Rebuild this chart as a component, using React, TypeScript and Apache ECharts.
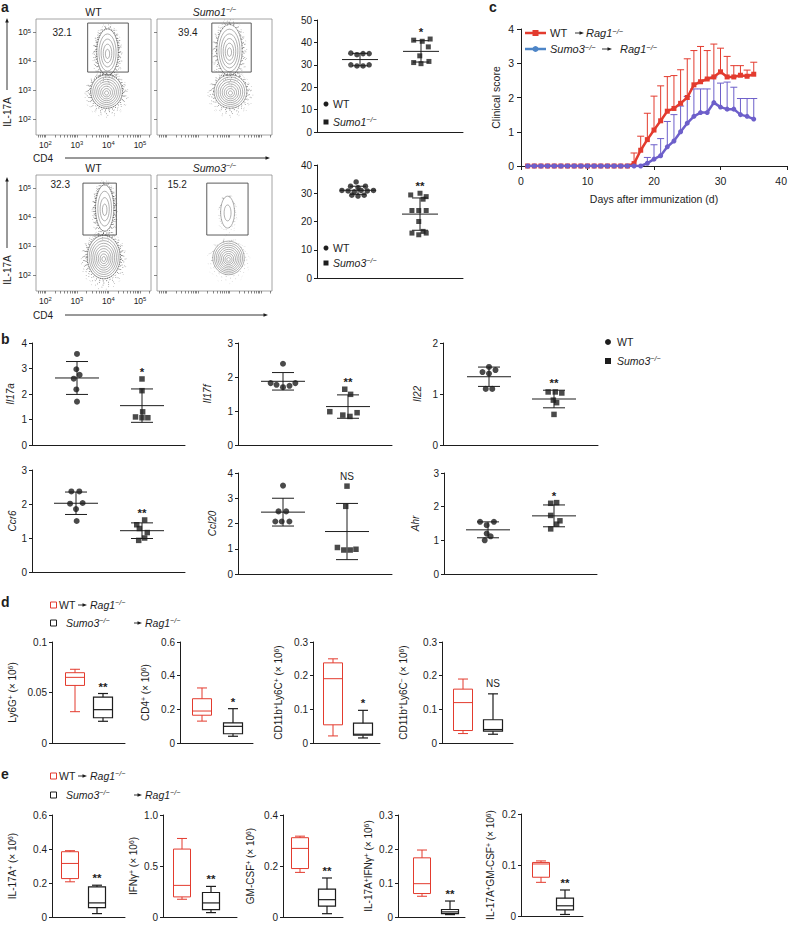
import React, { useEffect, useRef } from 'react';
import * as echarts from 'echarts';

const FONT = '"Liberation Sans", Arial, Helvetica, sans-serif';
const INK = '#1d1d1d';
const RED = '#e33b2e';
const VIOLET = '#6d5fca';
const LEG_BLUE = '#4d85c7';

// ================= DATA =================
// a – flow cytometry (log10 units: CD4 on x, IL-17A on y)
const flowTitles = ['WT', 'Sumo1', 'WT', 'Sumo3'];
const flowIsKO = [false, true, false, true];
const flowPercents = ['32.1', '39.4', '32.3', '15.2'];
const flowGates = [
  [3.34, 4.63, 3.62, 5.31],
  [3.44, 4.69, 3.62, 5.31],
  [3.19, 4.25, 3.38, 5.17],
  [3.28, 4.59, 3.38, 5.17],
];
// populations: [centre CD4, centre IL-17A, radius CD4, radius IL-17A, contour levels, dot density]
const flowPopulations = [
  [[3.97, 4.31, 0.34, 0.8, 5, 1], [3.94, 2.95, 0.5, 0.58, 8, 1]],
  [[4.0, 4.38, 0.4, 0.88, 6, 0.85], [4.03, 2.95, 0.52, 0.58, 8, 0.85]],
  [[3.88, 4.31, 0.29, 0.8, 4, 1], [3.85, 2.62, 0.52, 0.75, 9, 1]],
  [[3.94, 4.17, 0.22, 0.55, 2, 0.15], [3.97, 2.59, 0.5, 0.58, 9, 0.15]],
];
const flowDecades = [2, 3, 4, 5];

// a – % IL-17A+ of CD4+
const aSumo1WT = [35.2, 34.5, 35.0, 35.0, 30.0, 29.5, 29.5, 30.0];
const aSumo1KO = [41.0, 40.5, 41.5, 38.0, 34.0, 31.0, 30.5, 31.5];
const aSumo3WT = [34.0, 32.5, 32.0, 32.5, 31.0, 30.8, 30.5, 31.0, 30.8, 31.0, 29.3, 29.0, 29.3];
const aSumo3KO = [30.0, 29.4, 28.8, 27.9, 23.9, 23.9, 23.9, 20.0, 15.9, 15.3, 15.9, 16.5];

// b – relative mRNA
const bGenes = ['Il17a', 'Il17f', 'Il22', 'Ccr6', 'Ccl20', 'Ahr'];
const bWT = [
  [3.57, 2.97, 2.75, 2.6, 2.18, 1.7],
  [2.39, 1.82, 1.77, 1.7, 1.74, 1.82],
  [1.53, 1.47, 1.43, 1.4, 1.1, 1.1],
  [2.37, 2.37, 2.01, 2.03, 1.85, 1.5],
  [3.5, 2.48, 2.48, 2.08, 2.08, 2.08],
  [1.55, 1.55, 1.45, 1.2, 1.12, 1.0],
];
const bKO = [
  [2.59, 2.13, 1.3, 1.1, 1.07, 1.07],
  [1.64, 1.49, 0.98, 0.95, 0.88, 0.84],
  [1.04, 1.04, 1.02, 0.88, 0.83, 0.6],
  [1.53, 1.39, 1.28, 1.16, 1.0, 0.93],
  [3.48, 2.68, 1.05, 0.98, 0.95, 0.95],
  [2.12, 2.1, 1.74, 1.58, 1.48, 1.34],
];
const bSig = ['*', '**', '**', '**', 'NS', '*'];
const bYMax = [4, 3, 2, 3, 4, 3];

// c – clinical score
const cDays = [1, 2, 3, 4, 5, 6, 7, 8, 9, 10, 11, 12, 13, 14, 15, 16, 17, 18, 19, 20, 21, 22, 23, 24, 25, 26, 27, 28, 29, 30, 31, 32, 33, 34, 35];
const cWT = [0, 0, 0, 0, 0, 0, 0, 0, 0, 0, 0, 0, 0, 0, 0, 0, 0.07, 0.46, 0.77, 1.05, 1.32, 1.6, 1.68, 1.83, 2.0, 2.37, 2.46, 2.54, 2.6, 2.75, 2.6, 2.6, 2.65, 2.62, 2.68];
const cWTErr = [0, 0, 0, 0, 0, 0, 0, 0, 0, 0, 0, 0, 0, 0, 0, 0, 0.31, 0.41, 0.77, 0.99, 1.02, 1.01, 0.96, 0.98, 1.13, 1.0, 1.03, 0.83, 0.96, 0.69, 0.6, 0.33, 0.28, 0.18, 0.35];
const cKO = [0, 0, 0, 0, 0, 0, 0, 0, 0, 0, 0, 0, 0, 0, 0, 0, 0, 0, 0.08, 0.2, 0.3, 0.56, 0.73, 1.0, 1.25, 1.45, 1.56, 1.56, 1.85, 1.72, 1.66, 1.66, 1.5, 1.45, 1.37];
const cKOErr = [0, 0, 0, 0, 0, 0, 0, 0, 0, 0, 0, 0, 0, 0, 0, 0, 0, 0, 0.17, 0.42, 0.5, 0.74, 0.77, 0.75, 0.78, 0.8, 0.69, 0.69, 0.75, 0.7, 0.79, 0.64, 0.47, 0.52, 0.6];

// d – CNS infiltrates, box [min, Q1, median, Q3, max]
const dNames = ['Ly6G', 'CD4', 'CD11b+Ly6C+', 'CD11b+Ly6C-'];
const dWT = [
  [0.031, 0.057, 0.065, 0.0696, 0.073],
  [0.13, 0.165, 0.19, 0.263, 0.327],
  [0.021, 0.054, 0.191, 0.238, 0.25],
  [0.028, 0.037, 0.12, 0.16, 0.19],
];
const dKO = [
  [0.0215, 0.025, 0.033, 0.0455, 0.049],
  [0.04, 0.055, 0.099, 0.119, 0.204],
  [0.015, 0.023, 0.026, 0.059, 0.097],
  [0.026, 0.035, 0.04, 0.069, 0.146],
];
const dYMax = [0.1, 0.6, 0.3, 0.3];
const dInterval = [0.05, 0.2, 0.1, 0.1];
const dSig = ['**', '*', '*', 'NS'];

// e – cytokine-producing cells, box [min, Q1, median, Q3, max]
const eWT = [
  [0.207, 0.226, 0.315, 0.384, 0.39],
  [0.174, 0.197, 0.31, 0.666, 0.77],
  [0.175, 0.19, 0.269, 0.311, 0.317],
  [0.061, 0.069, 0.098, 0.174, 0.197],
  [0.066, 0.076, 0.102, 0.105, 0.108],
];
const eKO = [
  [0.02, 0.055, 0.083, 0.177, 0.187],
  [0.043, 0.072, 0.138, 0.24, 0.3],
  [0.013, 0.043, 0.068, 0.109, 0.153],
  [0.007, 0.01, 0.015, 0.022, 0.047],
  [0.003, 0.012, 0.02, 0.035, 0.051],
];
const eYMax = [0.6, 1.0, 0.4, 0.3, 0.2];
const eInterval = [0.2, 0.5, 0.2, 0.1, 0.1];
const eSig = ['**', '**', '**', '**', '**'];

// ================= LAYOUT =================
const flowGrids = [
  { left: 36, top: 19, width: 115, height: 116 },
  { left: 157, top: 19, width: 115, height: 116 },
  { left: 36, top: 175, width: 115, height: 116 },
  { left: 157, top: 175, width: 115, height: 116 },
];
const flowX = [1.7, 5.35];
const flowY = [1.45, 5.45];
const flowPercentPos = [[2.22, 4.97], [2.37, 4.97], [2.16, 5.13], [2.03, 5.13]];

const aGrids = [
  { left: 317, top: 20, width: 146, height: 112 },
  { left: 317, top: 165, width: 146, height: 113 },
];
const aCenters = [[360, 421], [358, 420]];
const aJitWT = [
  [-0.15, -0.05, 0.05, 0.15, -0.15, -0.05, 0.05, 0.15],
  [-0.03, -0.12, 0.0, 0.12, -0.26, -0.16, -0.06, 0.05, 0.15, 0.25, -0.1, 0.0, 0.1],
];
const aJitKO = [
  [-0.12, 0.02, 0.15, 0.12, -0.02, -0.12, 0.0, 0.13],
  [0.0, -0.15, 0.1, 0.05, -0.13, -0.02, 0.1, -0.02, -0.13, -0.02, 0.1, 0.05],
];

const bGrids = [
  { left: 32, top: 343, width: 153, height: 102 },
  { left: 238, top: 343, width: 154, height: 102 },
  { left: 443, top: 343, width: 155, height: 102 },
  { left: 32, top: 470, width: 153, height: 102 },
  { left: 238, top: 473, width: 154, height: 101 },
  { left: 444, top: 473, width: 153, height: 101 },
];
const bCenters = [[77, 142], [283, 348], [489, 554], [76, 142], [283, 347], [488, 554]];
const bNameGap = [17, 26, 21, 15, 21, 24];
const bJitWT = [
  [0, -0.01, 0.04, -0.05, -0.01, 0],
  [0, -0.19, -0.1, 0, 0.1, 0.19],
  [0, 0.1, -0.1, 0, -0.05, 0.05],
  [-0.07, 0.05, -0.09, 0.1, 0, 0.01],
  [0, -0.07, 0.05, -0.12, -0.02, 0.1],
  [-0.12, 0.09, -0.02, -0.02, 0.04, -0.05],
];
const bJitKO = [
  [0, 0, 0.01, -0.1, 0, 0.09],
  [-0.05, 0.04, -0.28, 0.14, -0.08, 0.03],
  [-0.09, 0.02, 0.12, -0.01, 0.04, 0],
  [0.04, -0.08, -0.04, 0.08, 0.04, -0.05],
  [0, -0.02, -0.15, 0.14, -0.05, 0.05],
  [0.04, -0.05, -0.05, 0.09, 0.04, -0.05],
];

const cGrid = { left: 521, top: 29, width: 266, height: 137 };

const dGrids = [
  { left: 52, top: 642, width: 73, height: 101 },
  { left: 180, top: 642, width: 73, height: 101 },
  { left: 313, top: 642, width: 67, height: 101 },
  { left: 442, top: 642, width: 71, height: 101 },
];
const dCenters = [[75, 103], [202, 233], [333, 363], [463, 493]];
const dNameGap = [35, 30, 30, 34];

const eGrids = [
  { left: 52, top: 815, width: 73, height: 102 },
  { left: 163, top: 815, width: 74, height: 102 },
  { left: 283, top: 815, width: 60, height: 102 },
  { left: 398, top: 815, width: 67, height: 102 },
  { left: 521, top: 814, width: 62, height: 102 },
];
const eCenters = [[70, 97], [182, 211], [300, 327], [422, 450], [541, 565]];
const eNameGap = [35, 25, 28, 25, 26];

// ================= HELPERS =================
function richFor(size: number) {
  const s = Math.round(size * 0.68 * 10) / 10;
  return {
    sup: { fontSize: s, verticalAlign: 'top', fontFamily: FONT, color: INK, fill: INK },
    i: { fontSize: size, fontStyle: 'italic', fontFamily: FONT, color: INK, fill: INK },
    isup: { fontSize: s, fontStyle: 'italic', verticalAlign: 'top', fontFamily: FONT, color: INK, fill: INK },
  };
}
const mean = (a: number[]) => a.reduce((s, v) => s + v, 0) / a.length;
const sd = (a: number[]) => {
  const m = mean(a);
  return Math.sqrt(a.reduce((s, v) => s + (v - m) * (v - m), 0) / (a.length - 1));
};
const ko = (g: string) => `{i|${g}}{isup|−/−}`;
const cellName = (n: string) => {
  const map: Record<string, string> = {
    'Ly6G': 'Ly6G{sup|+} (× 10{sup|6})',
    'CD4': 'CD4{sup|+} (× 10{sup|6})',
    'CD11b+Ly6C+': 'CD11b{sup|+}Ly6C{sup|+} (× 10{sup|6})',
    'CD11b+Ly6C-': 'CD11b{sup|+}Ly6C{sup|−} (× 10{sup|6})',
  };
  return map[n];
};
const eNames = [
  'IL-17A{sup|+} (× 10{sup|6})',
  'IFNγ{sup|+} (× 10{sup|6})',
  'GM-CSF{sup|+} (× 10{sup|6})',
  'IL-17A{sup|+}IFNγ{sup|+} (× 10{sup|6})',
  'IL-17A{sup|+}GM-CSF{sup|+} (× 10{sup|6})',
];

function gText(x: number, y: number, text: string, size = 10, extra: any = {}, rotation = 0) {
  return {
    type: 'text', x, y, rotation, silent: true,
    style: {
      text, fontSize: size, fontFamily: FONT, fill: INK, rich: richFor(size),
      align: 'left', verticalAlign: 'middle', ...extra,
    },
  };
}
function arrowRight(x1: number, x2: number, y: number, head = 4.5, w = 0.9): any[] {
  return [
    { type: 'line', silent: true, shape: { x1, y1: y, x2: x2 - head + 0.5, y2: y }, style: { stroke: INK, lineWidth: w } },
    { type: 'polygon', silent: true, shape: { points: [[x2, y], [x2 - head, y - 1.8], [x2 - head, y + 1.8]] }, style: { fill: INK } },
  ];
}
function arrowUp(x: number, yBottom: number, yTop: number): any[] {
  return [
    { type: 'line', silent: true, shape: { x1: x, y1: yBottom, x2: x, y2: yTop + 4 }, style: { stroke: INK, lineWidth: 0.9 } },
    { type: 'polygon', silent: true, shape: { points: [[x, yTop], [x - 1.8, yTop + 4.5], [x + 1.8, yTop + 4.5]] }, style: { fill: INK } },
  ];
}

function buildOption() {
  const grid: any[] = [];
  const xAxis: any[] = [];
  const yAxis: any[] = [];
  const series: any[] = [];
  const graphic: any[] = [];
  const axLine = { color: INK, width: 1 };

  const addGrid = (g: any, frame = false) => {
    grid.push({
      left: g.left, top: g.top, width: g.width, height: g.height, containLabel: false, outerBoundsMode: 'none',
      show: frame, borderColor: '#8e8e8e', borderWidth: 0.8, backgroundColor: 'rgba(0,0,0,0)',
    });
    return grid.length - 1;
  };
  const xRange = (g: any, c: number[]) => {
    const unit = c[1] - c[0];
    const min = 1 - (c[0] - g.left) / unit;
    return [min, min + g.width / unit];
  };
  const plainX = (gi: number, r: number[]) => {
    xAxis.push({
      gridIndex: gi, type: 'value', min: r[0], max: r[1],
      axisLine: { show: true, lineStyle: axLine }, axisTick: { show: false }, axisLabel: { show: false }, splitLine: { show: false },
    });
  };
  const valueY = (gi: number, max: number, interval: number, name: string, gap: number, nameStyle: any = {}, fmt?: any) => {
    yAxis.push({
      gridIndex: gi, type: 'value', min: 0, max, interval,
      axisLine: { show: true, lineStyle: axLine },
      axisTick: { show: true, inside: false, length: 3, lineStyle: axLine },
      axisLabel: { margin: 5, fontSize: 10, fontFamily: FONT, color: INK, formatter: fmt },
      splitLine: { show: false },
      name, nameLocation: 'middle', nameGap: gap, nameRotate: 90,
      nameTextStyle: { fontSize: 10, fontFamily: FONT, color: INK, rich: richFor(10), ...nameStyle },
    });
  };
  const sigSeries = (gi: number, top: number, label: string, offset: number) => {
    const isNS = label === 'NS';
    series.push({
      type: 'custom', xAxisIndex: gi, yAxisIndex: gi, silent: true, clip: false, z: 5,
      itemStyle: { color: INK },
      data: [[2, top]],
      renderItem: (_p: any, api: any) => {
        const c = api.coord([api.value(0), api.value(1)]);
        return {
          type: 'text', x: c[0], y: c[1] - offset,
          style: {
            text: label, fontSize: isNS ? 10 : 11.5, fontWeight: isNS ? 'normal' : 'bold',
            fontFamily: FONT, fill: INK, align: 'center', verticalAlign: 'bottom',
          },
        };
      },
    });
  };

  // ---------- a: flow plots ----------
  const minorTicks: number[] = [];
  for (let d = 1; d <= 5; d++) {
    for (let k = 1; k <= 9; k++) {
      const v = d + Math.log10(k);
      if (v > flowX[0] && v < flowX[1]) minorTicks.push(v);
    }
  }
  const renderContour = (_p: any, api: any) => {
    const c = api.coord([api.value(0), api.value(1)]);
    const s = api.size([api.value(2), api.value(3)]);
    const n = api.value(4);
    const dens = api.value(5);
    const ch: any[] = [];
    // speckled halo of single events
    for (let i = 0; i < 6; i++) {
      const f = 1.02 + i * 0.07;
      ch.push({
        type: 'ellipse', shape: { cx: c[0], cy: c[1] + i * 0.6, rx: s[0] * f, ry: s[1] * (f - 0.02) },
        style: {
          fill: 'none', stroke: '#222', lineWidth: 0.9,
          lineDash: [0.8, 1.6 + i * 1.1 + (1 - dens) * 5], lineDashOffset: i * 1.3,
          opacity: Math.max(0.12, (0.95 - i * 0.13) * (0.3 + 0.7 * dens)),
        },
      });
    }
    for (let k = n; k >= 1; k--) {
      const f = k / n;
      ch.push({
        type: 'ellipse', shape: { cx: c[0], cy: c[1] + (1 - f) * s[1] * 0.1, rx: s[0] * f, ry: s[1] * f },
        style: { fill: 'none', stroke: '#7a7a7a', lineWidth: 0.6 },
      });
    }
    return { type: 'group', children: ch };
  };
  flowGrids.forEach((g, k) => {
    const gi = addGrid(g, true);
    const showLab = k % 2 === 0;
    xAxis.push({
      gridIndex: gi, type: 'value', min: flowX[0], max: flowX[1],
      axisLine: { show: false }, splitLine: { show: false },
      axisTick: { show: true, inside: false, length: 2.5, customValues: minorTicks, lineStyle: { color: '#555', width: 0.7 } },
      axisLabel: {
        show: showLab, customValues: flowDecades, margin: 5, fontSize: 8.5, fontFamily: FONT, color: INK,
        formatter: (v: number) => `10{sup|${Math.round(v)}}`, rich: richFor(8.5),
      },
    });
    yAxis.push({
      gridIndex: gi, type: 'value', min: flowY[0], max: flowY[1],
      axisLine: { show: false }, splitLine: { show: false },
      axisTick: { show: true, inside: false, length: 3, customValues: flowDecades, lineStyle: { color: '#555', width: 0.7 } },
      axisLabel: {
        show: showLab, customValues: flowDecades, margin: 5, fontSize: 8.5, fontFamily: FONT, color: INK,
        formatter: (v: number) => `10{sup|${Math.round(v)}}`, rich: richFor(8.5),
      },
    });
    series.push({ type: 'custom', xAxisIndex: gi, yAxisIndex: gi, silent: true, clip: true, data: flowPopulations[k], renderItem: renderContour, z: 2 });
    series.push({
      type: 'custom', xAxisIndex: gi, yAxisIndex: gi, silent: true, clip: false, data: [flowGates[k]], z: 3,
      renderItem: (_p: any, api: any) => {
        const a = api.coord([api.value(0), api.value(3)]);
        const b = api.coord([api.value(1), api.value(2)]);
        return { type: 'rect', shape: { x: a[0], y: a[1], width: b[0] - a[0], height: b[1] - a[1] }, style: { fill: 'none', stroke: '#4a4a4a', lineWidth: 0.9 } };
      },
    });
    const label = flowPercents[k];
    series.push({
      type: 'custom', xAxisIndex: gi, yAxisIndex: gi, silent: true, clip: false, data: [flowPercentPos[k]], z: 4,
      itemStyle: { color: INK },
      renderItem: (_p: any, api: any) => {
        const c = api.coord([api.value(0), api.value(1)]);
        return { type: 'text', x: c[0], y: c[1], style: { text: label, fontSize: 10, fontFamily: FONT, fill: INK, align: 'left', verticalAlign: 'middle' } };
      },
    });
    const title = flowIsKO[k] ? ko(flowTitles[k]) : flowTitles[k];
    graphic.push(gText(g.left + g.width / 2, g.top - 7, title, 10.5, { align: 'center' }));
  });
  // flow axis titles
  [[112, 90, 18], [270, 248, 177]].forEach(([ly, yb, yt]) => {
    graphic.push(gText(7, ly, 'IL-17A', 10, { align: 'center' }, Math.PI / 2));
    graphic.push(...arrowUp(7, yb, yt));
  });
  [[158, 270], [315, 268]].forEach(([y, xe]) => {
    graphic.push(gText(33, y, 'CD4', 10));
    graphic.push(...arrowRight(65, xe, y));
  });

  // ---------- dot plots ----------
  const dotPlot = (g: any, centers: number[], yMax: number, interval: number, name: string, gap: number, italic: boolean,
    wt: number[], koV: number[], wtJ: number[], koJ: number[], sig: string, meanHalf: number, capHalf: number, sym: number) => {
    const gi = addGrid(g);
    plainX(gi, xRange(g, centers));
    valueY(gi, yMax, interval, name, gap, italic ? { fontStyle: 'italic' } : {});
    series.push({
      type: 'scatter', xAxisIndex: gi, yAxisIndex: gi, symbol: 'circle', symbolSize: sym, silent: true, z: 3,
      itemStyle: { color: INK, borderWidth: 0 }, data: wt.map((v, i) => [1 + wtJ[i], v]),
    });
    series.push({
      type: 'scatter', xAxisIndex: gi, yAxisIndex: gi, symbol: 'rect', symbolSize: sym - 0.5, silent: true, z: 3,
      itemStyle: { color: INK, borderWidth: 0 }, data: koV.map((v, i) => [2 + koJ[i], v]),
    });
    const stats = [[1, mean(wt), sd(wt)], [2, mean(koV), sd(koV)]];
    series.push({
      type: 'custom', xAxisIndex: gi, yAxisIndex: gi, silent: true, clip: false, z: 4, data: stats,
      itemStyle: { color: INK },
      renderItem: (_p: any, api: any) => {
        const x = api.value(0), m = api.value(1), s = api.value(2);
        const c = api.coord([x, m]);
        const t = api.coord([x, m + s]);
        const b = api.coord([x, m - s]);
        const st = { stroke: INK, lineWidth: 1 };
        return {
          type: 'group', children: [
            { type: 'line', shape: { x1: c[0] - meanHalf, y1: c[1], x2: c[0] + meanHalf, y2: c[1] }, style: st },
            { type: 'line', shape: { x1: c[0], y1: t[1], x2: c[0], y2: b[1] }, style: st },
            { type: 'line', shape: { x1: c[0] - capHalf, y1: t[1], x2: c[0] + capHalf, y2: t[1] }, style: st },
            { type: 'line', shape: { x1: c[0] - capHalf, y1: b[1], x2: c[0] + capHalf, y2: b[1] }, style: st },
          ],
        };
      },
    });
    const top = Math.max(...koV, stats[1][1] + stats[1][2]);
    sigSeries(gi, top, sig, sig === 'NS' ? 5 : 1);
  };

  dotPlot(aGrids[0], aCenters[0], 50, 10, '', 0, false, aSumo1WT, aSumo1KO, aJitWT[0], aJitKO[0], '*', 18, 8, 5.5);
  dotPlot(aGrids[1], aCenters[1], 40, 10, '', 0, false, aSumo3WT, aSumo3KO, aJitWT[1], aJitKO[1], '**', 18, 8, 5.5);
  // a legends
  [[104, 122, 'Sumo1'], [248, 263, 'Sumo3']].forEach(([y1, y2, g]) => {
    graphic.push({ type: 'circle', silent: true, shape: { cx: 326, cy: y1 as number, r: 2.5 }, style: { fill: INK } });
    graphic.push(gText(333, y1 as number, 'WT', 10.5));
    graphic.push({ type: 'rect', silent: true, shape: { x: 323.5, y: (y2 as number) - 2.5, width: 5, height: 5 }, style: { fill: INK } });
    graphic.push(gText(333, y2 as number, ko(g as string), 10.5));
  });

  bGenes.forEach((gene, k) => {
    dotPlot(bGrids[k], bCenters[k], bYMax[k], 1, gene, bNameGap[k], true, bWT[k], bKO[k], bJitWT[k], bJitKO[k], bSig[k], 22, 11, 6);
  });
  graphic.push({ type: 'circle', silent: true, shape: { cx: 608, cy: 342, r: 3 }, style: { fill: INK } });
  graphic.push(gText(617, 342, 'WT', 10.5));
  graphic.push({ type: 'rect', silent: true, shape: { x: 605, y: 358, width: 6, height: 6 }, style: { fill: INK } });
  graphic.push(gText(617, 361, ko('Sumo3'), 10.5));

  // ---------- c: clinical score ----------
  const ci = addGrid(cGrid);
  xAxis.push({
    gridIndex: ci, type: 'value', min: 0, max: 40, interval: 10,
    axisLine: { show: true, lineStyle: axLine }, axisTick: { show: true, length: 4, lineStyle: axLine },
    axisLabel: { margin: 9, fontSize: 10.5, fontFamily: FONT, color: INK, alignMaxLabel: 'right' }, splitLine: { show: false },
    name: 'Days after immunization (d)', nameLocation: 'middle', nameGap: 27,
    nameTextStyle: { fontSize: 10.5, fontFamily: FONT, color: INK },
  });
  yAxis.push({
    gridIndex: ci, type: 'value', min: 0, max: 4, interval: 1,
    axisLine: { show: true, lineStyle: axLine }, axisTick: { show: true, length: 4, lineStyle: axLine },
    axisLabel: { margin: 7, fontSize: 10.5, fontFamily: FONT, color: INK }, splitLine: { show: false },
    name: 'Clinical score', nameLocation: 'middle', nameGap: 20, nameRotate: 90,
    nameTextStyle: { fontSize: 10.5, fontFamily: FONT, color: INK },
  });
  const errSeries = (vals: number[], errs: number[], color: string, z: number) => ({
    type: 'custom', xAxisIndex: ci, yAxisIndex: ci, silent: true, clip: false, z,
    itemStyle: { color },
    data: cDays.map((d, i) => [d, vals[i], errs[i]]).filter((r) => r[2] > 0),
    renderItem: (_p: any, api: any) => {
      const x = api.value(0), m = api.value(1), e = api.value(2);
      const c = api.coord([x, m]);
      const t = api.coord([x, m + e]);
      const st = { stroke: color, lineWidth: 1 };
      return {
        type: 'group', children: [
          { type: 'line', shape: { x1: c[0], y1: c[1], x2: c[0], y2: t[1] }, style: st },
          { type: 'line', shape: { x1: c[0] - 3.5, y1: t[1], x2: c[0] + 3.5, y2: t[1] }, style: st },
        ],
      };
    },
  });
  series.push(errSeries(cWT, cWTErr, RED, 1));
  series.push(errSeries(cKO, cKOErr, VIOLET, 2));
  series.push({
    type: 'line', xAxisIndex: ci, yAxisIndex: ci, silent: true, z: 3, symbol: 'rect', symbolSize: 5,
    lineStyle: { color: RED, width: 2.5 }, itemStyle: { color: RED }, data: cDays.map((d, i) => [d, cWT[i]]),
  });
  series.push({
    type: 'line', xAxisIndex: ci, yAxisIndex: ci, silent: true, z: 4, symbol: 'circle', symbolSize: 5,
    lineStyle: { color: VIOLET, width: 2.5 }, itemStyle: { color: VIOLET }, data: cDays.map((d, i) => [d, cKO[i]]),
  });
  // c legend
  graphic.push({ type: 'line', silent: true, shape: { x1: 525, y1: 33, x2: 546, y2: 33 }, style: { stroke: RED, lineWidth: 2.5 } });
  graphic.push({ type: 'rect', silent: true, shape: { x: 532.5, y: 30, width: 6, height: 6 }, style: { fill: RED } });
  graphic.push(gText(550, 33, 'WT', 11));
  graphic.push(...arrowRight(575, 584, 33));
  graphic.push(gText(586, 33, ko('Rag1'), 11));
  graphic.push({ type: 'line', silent: true, shape: { x1: 525, y1: 49, x2: 546, y2: 49 }, style: { stroke: LEG_BLUE, lineWidth: 2.5 } });
  graphic.push({ type: 'circle', silent: true, shape: { cx: 535.5, cy: 49, r: 3 }, style: { fill: LEG_BLUE } });
  graphic.push(gText(550, 49, ko('Sumo3'), 11));
  graphic.push(...arrowRight(602, 612, 49));
  graphic.push(gText(620, 49, ko('Rag1'), 11));

  // ---------- d / e: box plots ----------
  const boxPlot = (g: any, centers: number[], yMax: number, interval: number, name: string, gap: number,
    wt: number[], koV: number[], sig: string, hw: number, fmt?: any) => {
    const gi = addGrid(g);
    plainX(gi, xRange(g, centers));
    valueY(gi, yMax, interval, name, gap, {}, fmt);
    const render = (color: string, lw: number) => (_p: any, api: any) => {
      const x = api.value(0);
      const pts = [1, 2, 3, 4, 5].map((i) => api.coord([x, api.value(i)]));
      const X = pts[0][0];
      const [pMin, pQ1, pMed, pQ3, pMax] = pts;
      const cw = 5;
      const st = { stroke: color, lineWidth: lw, fill: 'none' };
      return {
        type: 'group', children: [
          { type: 'rect', shape: { x: X - hw, y: pQ3[1], width: 2 * hw, height: pQ1[1] - pQ3[1] }, style: st },
          { type: 'line', shape: { x1: X - hw, y1: pMed[1], x2: X + hw, y2: pMed[1] }, style: st },
          { type: 'line', shape: { x1: X, y1: pQ3[1], x2: X, y2: pMax[1] }, style: st },
          { type: 'line', shape: { x1: X, y1: pQ1[1], x2: X, y2: pMin[1] }, style: st },
          { type: 'line', shape: { x1: X - cw, y1: pMax[1], x2: X + cw, y2: pMax[1] }, style: st },
          { type: 'line', shape: { x1: X - cw, y1: pMin[1], x2: X + cw, y2: pMin[1] }, style: st },
        ],
      };
    };
    series.push({ type: 'custom', xAxisIndex: gi, yAxisIndex: gi, silent: true, clip: false, z: 3, itemStyle: { color: RED }, data: [[1, ...wt]], renderItem: render(RED, 1) });
    series.push({ type: 'custom', xAxisIndex: gi, yAxisIndex: gi, silent: true, clip: false, z: 3, itemStyle: { color: INK }, data: [[2, ...koV]], renderItem: render(INK, 1.2) });
    sigSeries(gi, koV[4], sig, sig === 'NS' ? 5 : 1);
  };

  dNames.forEach((n, k) => {
    boxPlot(dGrids[k], dCenters[k], dYMax[k], dInterval[k], cellName(n), dNameGap[k], dWT[k], dKO[k], dSig[k], 9.5);
  });
  eNames.forEach((n, k) => {
    const fmt = k === 1 ? (v: number) => (v === 0 ? '0' : v.toFixed(1)) : undefined;
    boxPlot(eGrids[k], eCenters[k], eYMax[k], eInterval[k], n, eNameGap[k], eWT[k], eKO[k], eSig[k], 8.5, fmt);
  });
  // d / e legends
  [[605, 623], [776, 795]].forEach(([y1, y2]) => {
    graphic.push({ type: 'rect', silent: true, shape: { x: 50.5, y: y1 - 3, width: 6, height: 6 }, style: { fill: 'none', stroke: RED, lineWidth: 1 } });
    graphic.push(gText(59, y1, 'WT', 10.5));
    graphic.push(...arrowRight(78, 87, y1));
    graphic.push(gText(90, y1, ko('Rag1'), 10.5));
    graphic.push({ type: 'rect', silent: true, shape: { x: 50.5, y: y2 - 3, width: 6, height: 6 }, style: { fill: 'none', stroke: INK, lineWidth: 1 } });
    graphic.push(gText(66, y2, ko('Sumo3'), 10.5));
    graphic.push(...arrowRight(134, 142, y2));
    graphic.push(gText(145, y2, ko('Rag1'), 10.5));
  });

  // panel letters
  [['a', 1, 7], ['c', 489, 7], ['b', 1, 339], ['d', 1, 602], ['e', 1, 774]].forEach(([t, x, y]) => {
    graphic.push(gText(x as number, y as number, t as string, 14, { fontWeight: 'bold' }));
  });

  return {
    animation: false,
    backgroundColor: '#ffffff',
    textStyle: { fontFamily: FONT },
    grid, xAxis, yAxis, series, graphic,
  };
}

export default function App() {
  const ref = useRef<HTMLDivElement>(null);
  useEffect(() => {
    const chart = echarts.init(ref.current!, undefined, { renderer: 'svg', width: 790, height: 928 });
    chart.setOption(buildOption() as any);
    return () => chart.dispose();
  }, []);
  return <div ref={ref} style={{ position: 'absolute', left: 0, top: 0, width: 790, height: 928, background: '#fff' }} />;
}
